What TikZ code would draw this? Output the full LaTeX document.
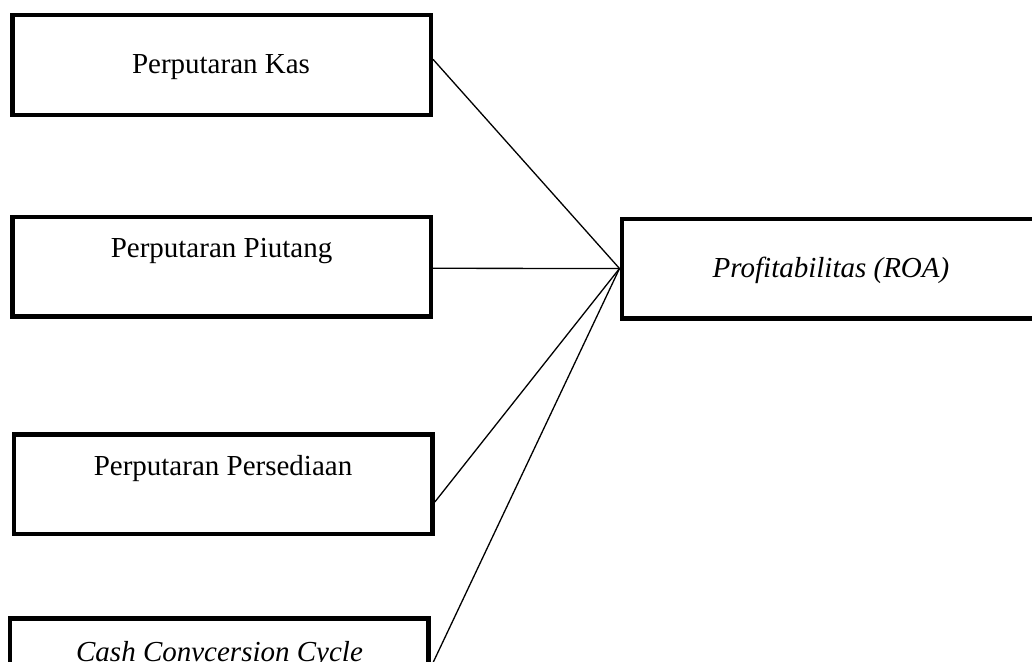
\documentclass[tikz,border=0pt]{standalone}
\usepackage{fontspec}
\setmainfont{Liberation Serif}
\begin{document}
\begin{tikzpicture}[x=1pt,y=-1pt,
  varbox/.style={draw=black,line width=4.5pt,rectangle,minimum width=418.5pt,minimum height=99.5pt,inner sep=0pt},
  boxtext/.style={anchor=base,inner sep=0pt,font=\fontsize{29}{34}\selectfont},
  link/.style={draw=black,line width=1.3pt}]
\useasboundingbox (0,0) rectangle (1032,661);
\clip (0,0) rectangle (1032,661);
% boxes
\node[varbox] (b1) at (221.5,65) {};
\node[varbox] (b2) at (221.5,266.5) {};
\node[varbox] (b3) at (223.3,484.3) {};
\node[varbox] (b4) at (219,668) {};
\node[varbox] (roa) at (831,268.5) {};
% texts
\node[boxtext] (t1) at (221,73) {Perputaran Kas};
\node[boxtext] (t2) at (221.5,257) {Perputaran Piutang};
\node[boxtext] (t3) at (223,475) {Perputaran Persediaan};
\node[boxtext] (t4) at (219.5,661) {\itshape Cash Convcersion Cycle};
\node[boxtext] (t5) at (831,277) {\itshape Profitabilitas (ROA)};
% connectors
\draw[link] ([yshift=5.7pt]b1.east) -- (roa.west);
\draw[link] ([yshift=-1.8pt]b2.east) -- (roa.west);
\draw[link] ([yshift=-17.7pt]b3.east) -- (roa.west);
\draw[link] (b4.east) -- (roa.west);
\end{tikzpicture}
\end{document}
